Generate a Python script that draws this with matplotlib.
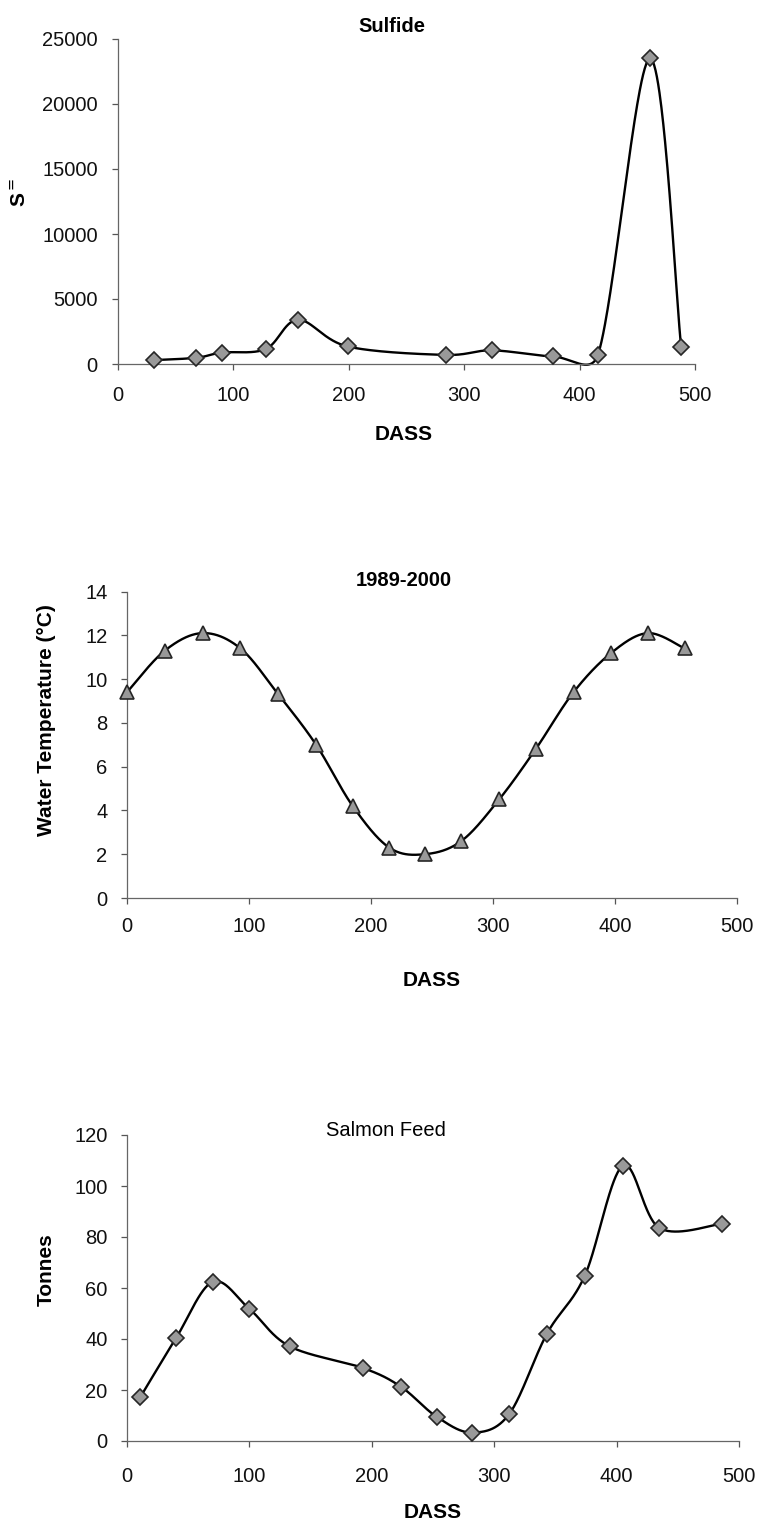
import numpy as np
import matplotlib
matplotlib.use("Agg")
import matplotlib.pyplot as plt

plt.rcParams['font.family'] = ['Liberation Sans', 'DejaVu Sans']

# ---------------- data ----------------
sulfide_dass = [31, 68, 90, 128, 156, 199, 284, 324, 377, 416, 461, 488]
sulfide_val = [300, 480, 880, 1150, 3400, 1350, 700, 1050, 580, 730, 23500, 1300]

temp_dass = [0, 31, 62, 93, 124, 155, 185, 215, 244, 274, 305, 335, 366, 397, 427, 457]
temp_val = [9.4, 11.3, 12.1, 11.4, 9.3, 7.0, 4.2, 2.3, 2.0, 2.6, 4.5, 6.8, 9.4, 11.2, 12.1, 11.4]

feed_dass = [11, 40, 70, 100, 133, 193, 224, 253, 282, 312, 343, 374, 405, 435, 486]
feed_val = [17.3, 40.3, 62.4, 51.8, 37.1, 28.6, 21.2, 9.5, 3.3, 10.4, 42.0, 64.8, 107.9, 83.5, 85.2]

sulfide_yticks = [0, 5000, 10000, 15000, 20000, 25000]
temp_yticks = [0, 2, 4, 6, 8, 10, 12, 14]
feed_yticks = [0, 20, 40, 60, 80, 100, 120]
dass_xticks = [0, 100, 200, 300, 400, 500]


def excel_smooth(ax, x, y, n=60):
    """Bezier smoothing similar to Excel's 'smoothed line' (arms limited
    to half the segment length, measured in screen space)."""
    fig.canvas.draw()
    pts = ax.transData.transform(np.column_stack([x, y]).astype(float))
    P = np.vstack([pts[0], pts, pts[-1]])
    t = np.linspace(0, 1, n)[:, None]
    out = []
    for i in range(len(pts) - 1):
        p0, p3 = P[i + 1], P[i + 2]
        d = np.linalg.norm(p3 - p0)
        a1 = (P[i + 2] - P[i]) / 6.0
        a2 = (P[i + 3] - P[i + 1]) / 6.0
        for a in (a1, a2):
            la = np.linalg.norm(a)
            if la > d / 2 and la > 0:
                a *= (d / 2) / la
        c1 = p0 + a1
        c2 = p3 - a2
        b = (1 - t) ** 3 * p0 + 3 * (1 - t) ** 2 * t * c1 + 3 * (1 - t) * t ** 2 * c2 + t ** 3 * p3
        out.append(b)
    out = np.vstack(out)
    data = ax.transData.inverted().transform(out)
    return data[:, 0], data[:, 1]


W, H = 758, 1527
fig = plt.figure(figsize=(W / 100, H / 100), dpi=100)


def px_axes(l, r, t, b):
    return fig.add_axes([l / W, 1 - b / H, (r - l) / W, (b - t) / H])


def ftext(x, y, s, **kw):
    fig.text(x / W, 1 - y / H, s, ha='center', va='center', **kw)


def style(ax, xpad, ypad):
    for s in ['top', 'right']:
        ax.spines[s].set_visible(False)
    for s in ['left', 'bottom']:
        ax.spines[s].set_color('#666666')
        ax.spines[s].set_linewidth(0.9)
    ax.tick_params(axis='both', direction='out', length=4.5, width=0.9,
                   color='#555555', labelsize=14.5, labelcolor='#111111')
    ax.tick_params(axis='x', pad=xpad)
    ax.tick_params(axis='y', pad=ypad)
    ax.set_xticks(dass_xticks)
    ax.set_xlim(0, 500)


line_kw = dict(color='black', lw=1.7, zorder=2, clip_on=False)
mk_kw = dict(linestyle='none', markerfacecolor='#999999', markeredgecolor='#262626',
             markeredgewidth=1.2, zorder=3, clip_on=False)

# ---------- Sulfide ----------
ax1 = px_axes(118, 695, 39, 364)
ax1.set_ylim(0, 25000)
ax1.set_yticks(sulfide_yticks)
style(ax1, 11, 10)
sx, sy = excel_smooth(ax1, sulfide_dass, sulfide_val)
ax1.plot(sx, sy, **line_kw)
ax1.plot(sulfide_dass, sulfide_val, marker='D', markersize=8.5, **mk_kw)
ftext(392, 26, 'Sulfide', fontsize=14.5, fontweight='bold')
ftext(404, 434, 'DASS', fontsize=15, fontweight='bold')
ftext(20, 192, r'S$^{=}$', fontsize=15, fontweight='bold', rotation=90)

# ---------- Water temperature ----------
ax2 = px_axes(127, 737, 591.5, 898)
ax2.set_ylim(0, 14)
ax2.set_yticks(temp_yticks)
style(ax2, 9.5, 9.5)
tx, ty = excel_smooth(ax2, temp_dass, temp_val)
ax2.plot(tx, ty, **line_kw)
ax2.plot(temp_dass, temp_val, marker='^', markersize=10, **mk_kw)
ftext(404, 580, '1989-2000', fontsize=14.5, fontweight='bold')
ftext(432, 981, 'DASS', fontsize=15, fontweight='bold')
ftext(47, 720, 'Water Temperature (°C)', fontsize=15, fontweight='bold', rotation=90)

# ---------- Salmon feed ----------
ax3 = px_axes(127, 739, 1135, 1441)
ax3.set_ylim(0, 120)
ax3.set_yticks(feed_yticks)
style(ax3, 14, 9.5)
fx, fy = excel_smooth(ax3, feed_dass, feed_val)
ax3.plot(fx, fy, **line_kw)
ax3.plot(feed_dass, feed_val, marker='D', markersize=8.5, **mk_kw)
ftext(386, 1130, 'Salmon Feed', fontsize=14.5)
ftext(433, 1513, 'DASS', fontsize=15, fontweight='bold')
ftext(46, 1270, 'Tonnes', fontsize=15, fontweight='bold', rotation=90)

fig.savefig('out.png', dpi=100, facecolor='white')
